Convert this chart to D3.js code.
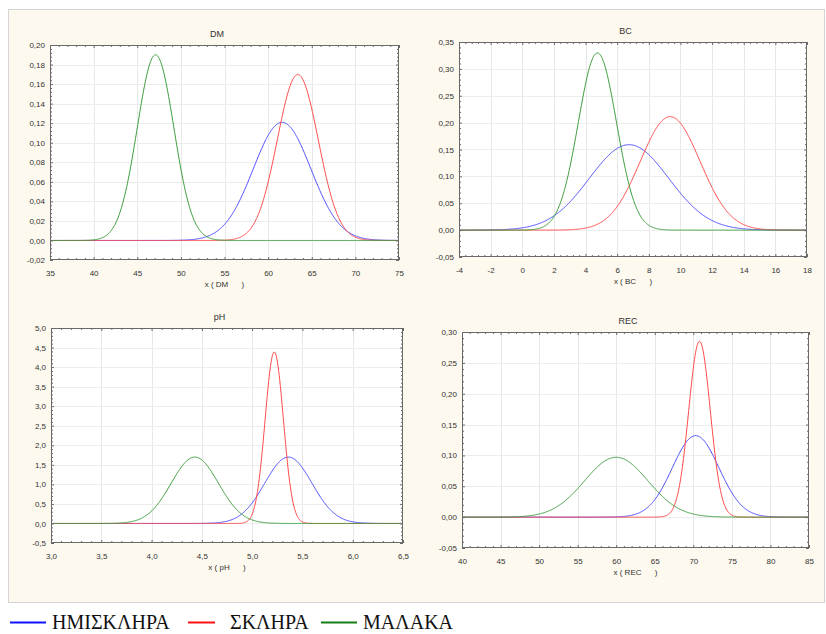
<!DOCTYPE html>
<html>
<head>
<meta charset="utf-8">
<script src="https://cdn.jsdelivr.net/npm/d3@7"></script>
<style>
  body { margin: 0; background: #fff; }
  text { white-space: pre; }
</style>
</head>
<body>
<script>
// groups (legend) and variables (one panel each)
var groups = ["ΗΜΙΣΚΛΗΡΑ", "ΣΚΛΗΡΑ", "ΜΑΛΑΚΑ"];
var variables = ["DM", "BC", "pH", "REC"];

// mean and standard deviation per variable, in group order
var meanValues = [
    [61.6, 63.4, 47.1],
    [6.75, 9.35, 4.75],
    [5.36, 5.22, 4.43],
    [70.3, 70.8, 60.0]
];
var sdValues = [
    [3.30, 2.35, 2.10],
    [2.51, 1.89, 1.21],
    [0.235, 0.091, 0.235],
    [3.02, 1.40, 4.11]
];

// tick labels
var xTickValues = [
    [35, 40, 45, 50, 55, 60, 65, 70, 75],
    [-4, -2, 0, 2, 4, 6, 8, 10, 12, 14, 16, 18],
    [3.0, 3.5, 4.0, 4.5, 5.0, 5.5, 6.0, 6.5],
    [40, 45, 50, 55, 60, 65, 70, 75, 80, 85]
];
var yTickValues = [
    [-0.02, 0, 0.02, 0.04, 0.06, 0.08, 0.10, 0.12, 0.14, 0.16, 0.18, 0.20],
    [-0.05, 0, 0.05, 0.10, 0.15, 0.20, 0.25, 0.30, 0.35],
    [-0.5, 0, 0.5, 1.0, 1.5, 2.0, 2.5, 3.0, 3.5, 4.0, 4.5, 5.0],
    [-0.05, 0, 0.05, 0.10, 0.15, 0.20, 0.25, 0.30]
];
var xFormats = ["d", "d", ".1f", "d"];
var yFormats = [".2f", ".2f", ".1f", ".2f"];

// layout
var width = 826, height = 634;
var boxes = [
    {left: 50, top: 45, right: 399, bottom: 260},
    {left: 459, top: 42, right: 807, bottom: 257},
    {left: 51, top: 328, right: 403, bottom: 543},
    {left: 462, top: 332, right: 809, bottom: 548}
];
var curveColors = ["#4b4bff", "#ff4b4b", "#3d9e3d"];
var legendColors = ["#1010ff", "#ff1010", "#158015"];

var locale = d3.formatLocale({decimal: ",", thousands: ".", grouping: [3], currency: ["", ""], minus: "-"});

var svg = d3.select("body").append("svg")
    .attr("width", width)
    .attr("height", height);

// outer cream frame
svg.append("rect")
    .attr("x", 8.5).attr("y", 9.5)
    .attr("width", 816).attr("height", 593)
    .attr("fill", "#fdf9ee")
    .attr("stroke", "#d4d4d4");

function normalPdf(x, m, s) {
    var z = (x - m) / s;
    return Math.exp(-0.5 * z * z) / (s * Math.sqrt(2 * Math.PI));
}

function minorTicks(ticks) {
    var out = [];
    for (var i = 0; i < ticks.length - 1; ++i) {
        var step = (ticks[i + 1] - ticks[i]) / 5;
        for (var k = 1; k < 5; ++k) out.push(ticks[i] + k * step);
    }
    return out;
}

variables.forEach(function(name, p) {
    var b = boxes[p];
    var xt = xTickValues[p], yt = yTickValues[p];

    var x = d3.scaleLinear()
        .domain([xt[0], xt[xt.length - 1]])
        .range([b.left, b.right]);
    var y = d3.scaleLinear()
        .domain([yt[0], yt[yt.length - 1]])
        .range([b.bottom, b.top]);

    var g = svg.append("g");

    // plot background
    g.append("rect")
        .attr("x", b.left).attr("y", b.top)
        .attr("width", b.right - b.left).attr("height", b.bottom - b.top)
        .attr("fill", "#fff");

    // grid
    g.selectAll(".vgrid").data(xt.slice(1, -1)).enter().append("line")
        .attr("x1", function(d) { return Math.round(x(d)) + 0.5; })
        .attr("x2", function(d) { return Math.round(x(d)) + 0.5; })
        .attr("y1", b.top).attr("y2", b.bottom)
        .attr("stroke", "#e8e8e8");
    g.selectAll(".hgrid").data(yt.slice(1, -1)).enter().append("line")
        .attr("y1", function(d) { return Math.round(y(d)) + 0.5; })
        .attr("y2", function(d) { return Math.round(y(d)) + 0.5; })
        .attr("x1", b.left).attr("x2", b.right)
        .attr("stroke", "#ececec");

    // curves
    var line = d3.line()
        .x(function(d) { return x(d[0]); })
        .y(function(d) { return y(d[1]); });
    var xs = d3.range(0, 601).map(function(i) {
        return x.domain()[0] + (x.domain()[1] - x.domain()[0]) * i / 600;
    });
    groups.forEach(function(grp, gi) {
        var m = meanValues[p][gi], s = sdValues[p][gi];
        g.append("path")
            .datum(xs.map(function(v) { return [v, normalPdf(v, m, s)]; }))
            .attr("fill", "none")
            .attr("stroke", curveColors[gi])
            .attr("stroke-width", 1)
            .attr("d", line);
    });

    // frame
    g.append("rect")
        .attr("x", b.left + 0.5).attr("y", b.top + 0.5)
        .attr("width", b.right - b.left - 1).attr("height", b.bottom - b.top - 1)
        .attr("fill", "none")
        .attr("stroke", "#6a6a6a");

    var fx = locale.format(xFormats[p]);
    var fy = locale.format(yFormats[p]);

    // axes with inward ticks
    var axes = [
        {ax: d3.axisBottom(x).tickValues(xt).tickSize(-3).tickFormat(fx).tickPadding(10), t: "translate(0," + b.bottom + ")"},
        {ax: d3.axisLeft(y).tickValues(yt).tickSize(-3).tickFormat(fy).tickPadding(5), t: "translate(" + b.left + ",0)"},
        {ax: d3.axisTop(x).tickValues(xt).tickSize(-3).tickFormat(""), t: "translate(0," + b.top + ")"},
        {ax: d3.axisRight(y).tickValues(yt).tickSize(-3).tickFormat(""), t: "translate(" + b.right + ",0)"},
        {ax: d3.axisBottom(x).tickValues(minorTicks(xt)).tickSize(-2).tickFormat(""), t: "translate(0," + b.bottom + ")"},
        {ax: d3.axisLeft(y).tickValues(minorTicks(yt)).tickSize(-2).tickFormat(""), t: "translate(" + b.left + ",0)"},
        {ax: d3.axisTop(x).tickValues(minorTicks(xt)).tickSize(-2).tickFormat(""), t: "translate(0," + b.top + ")"},
        {ax: d3.axisRight(y).tickValues(minorTicks(yt)).tickSize(-2).tickFormat(""), t: "translate(" + b.right + ",0)"}
    ];
    axes.forEach(function(a) {
        var ag = g.append("g").attr("transform", a.t).call(a.ax);
        ag.select(".domain").remove();
        ag.selectAll("line").attr("stroke", "#6a6a6a");
        ag.selectAll("text")
            .attr("fill", "#333")
            .style("font-family", "'Liberation Sans', Arial, sans-serif")
            .style("font-size", "8px");
    });

    // title and axis title
    var cx = (b.left + b.right) / 2;
    g.append("text")
        .attr("x", cx).attr("y", b.top - 8)
        .attr("text-anchor", "middle")
        .style("font-family", "'Liberation Sans', Arial, sans-serif")
        .style("font-size", "9px")
        .attr("fill", "#333")
        .text(name + "      ");
    g.append("text")
        .attr("x", cx).attr("y", b.bottom + 27)
        .attr("text-anchor", "middle")
        .style("font-family", "'Liberation Sans', Arial, sans-serif")
        .style("font-size", "8px")
        .attr("fill", "#333")
        .text("x ( " + name + "      )");
});

// legend
var legendX = [10, 188, 321];
var legendLen = [36, 27, 36];
var legend = svg.append("g");
groups.forEach(function(grp, gi) {
    legend.append("line")
        .attr("x1", legendX[gi]).attr("x2", legendX[gi] + legendLen[gi])
        .attr("y1", 622.5).attr("y2", 622.5)
        .attr("stroke", legendColors[gi])
        .attr("stroke-width", 2);
    legend.append("text")
        .attr("x", legendX[gi] + 42)
        .attr("y", 629)
        .style("font-family", "'Liberation Serif', 'Times New Roman', serif")
        .style("font-size", "20px")
        .attr("fill", "#111")
        .text(grp);
});
</script>
</body>
</html>
